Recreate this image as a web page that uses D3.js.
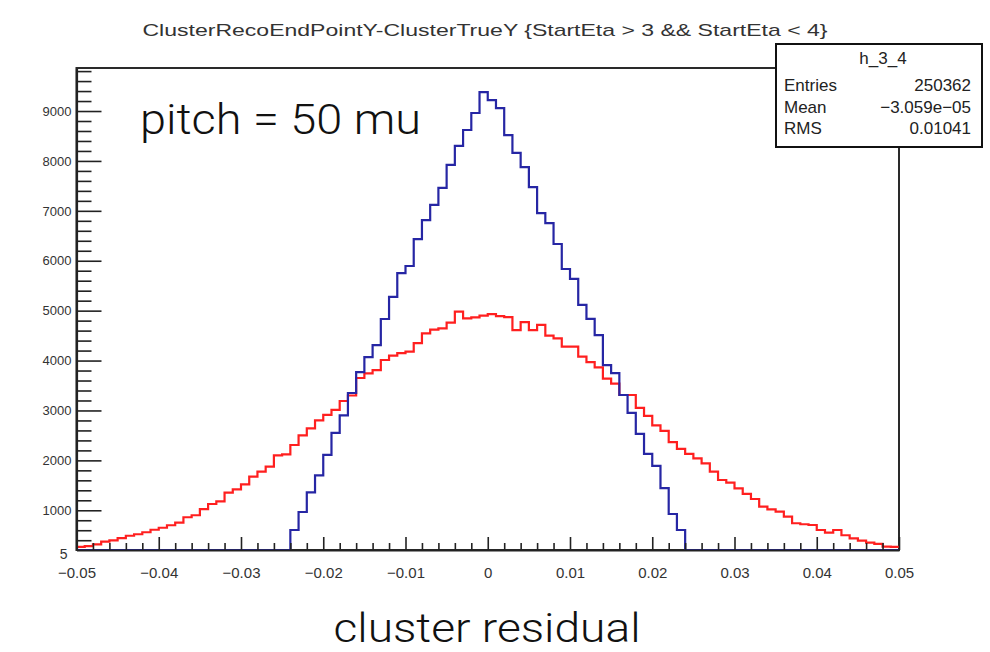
<!DOCTYPE html>
<html>
<head>
<meta charset="utf-8">
<script src="https://cdn.jsdelivr.net/npm/d3@7"></script>
<style>
  html, body { margin: 0; padding: 0; background: #ffffff; }
  svg { display: block; }
</style>
</head>
<body>
<svg id="chart" width="990" height="652"></svg>
<script>
// ---------------- data ----------------
const titleText = "ClusterRecoEndPointY-ClusterTrueY {StartEta > 3 && StartEta < 4}";
const histRange = [-0.05, 0.05];
const nBins = 100;

// red histogram (broad), 100 bins from -0.05 to 0.05
const redCounts = [
  265, 280, 318, 370, 395, 440, 490, 520, 560, 610,
  650, 700, 752, 860, 900, 1025, 1126, 1180, 1353, 1420,
  1520, 1673, 1773, 1873, 2100, 2120, 2308, 2500, 2642, 2800,
  2910, 3010, 3190, 3300, 3650, 3745, 3810, 4011, 4100, 4150,
  4180, 4350, 4546, 4620, 4646, 4760, 4980, 4846, 4866, 4900,
  4930, 4890, 4870, 4610, 4770, 4610, 4713, 4500, 4446, 4278,
  4278, 4078, 3970, 3865, 3637, 3537, 3310, 3310, 3053, 2893,
  2700, 2592, 2365, 2230, 2130, 2041, 1940, 1773, 1607, 1553,
  1440, 1330, 1226, 1072, 1020, 972, 872, 740, 720, 705,
  605, 551, 605, 500, 438, 391, 350, 325, 271, 265
];

// blue histogram (narrow, pitch = 50 mu), 100 bins from -0.05 to 0.05
const blueCounts = [
  0, 0, 0, 0, 0, 0, 0, 0, 0, 0,
  0, 0, 0, 0, 0, 0, 0, 0, 0, 0,
  0, 0, 0, 0, 0, 165, 605, 965, 1360, 1700,
  2110, 2550, 2900, 3350, 3770, 4070, 4310, 4833, 5275, 5750,
  5895, 6435, 6815, 7120, 7460, 7920, 8300, 8620, 8960, 9380,
  9220, 9060, 8515, 8160, 7875, 7475, 6955, 6755, 6335, 5835,
  5635, 5115, 4835, 4510, 3910, 3750, 3310, 2950, 2530, 2130,
  1890, 1445, 925, 605, 180, 0, 0, 0, 0, 0,
  0, 0, 0, 0, 0, 0, 0, 0, 0, 0,
  0, 0, 0, 0, 0, 0, 0, 0, 0, 0
];

const xTickValues = [-0.05, -0.04, -0.03, -0.02, -0.01, 0, 0.01, 0.02, 0.03, 0.04, 0.05];
const xTickLabels = ["\u22120.05", "\u22120.04", "\u22120.03", "\u22120.02", "\u22120.01", "0", "0.01", "0.02", "0.03", "0.04", "0.05"];
const yTickValues = [1000, 2000, 3000, 4000, 5000, 6000, 7000, 8000, 9000];
const yTickLabels = ["1000", "2000", "3000", "4000", "5000", "6000", "7000", "8000", "9000"];
const yDomain = [204, 9862];

const statsName = "h_3_4";
const statsRows = ["Entries", "Mean", "RMS"];
const statsValues = ["250362", "\u22123.059e\u221205", "0.01041"];

const annotationText = "pitch = 50 mu";
const xAxisTitle = "cluster residual";

// ---------------- layout ----------------
const svg = d3.select("#chart");
const frame = { left: 76.5, right: 899, top: 68, bottom: 550 };

const x = d3.scaleLinear().domain(histRange).range([frame.left, frame.right]);
const y = d3.scaleLinear().domain(yDomain).range([frame.bottom, frame.top]);

const binWidth = (histRange[1] - histRange[0]) / nBins;

// clip for histograms
svg.append("defs").append("clipPath").attr("id", "frameClip")
  .append("rect")
  .attr("x", frame.left).attr("y", frame.top)
  .attr("width", frame.right - frame.left).attr("height", frame.bottom - frame.top);

// frame rectangle
svg.append("rect")
  .attr("x", frame.left).attr("y", frame.top)
  .attr("width", frame.right - frame.left).attr("height", frame.bottom - frame.top)
  .attr("fill", "none").attr("stroke", "#2a2a2a").attr("stroke-width", 2);

// histograms
function stepPoints(counts) {
  const pts = counts.map((c, i) => [histRange[0] + i * binWidth, c]);
  pts.push([histRange[1], counts[counts.length - 1]]);
  return pts;
}
const stepLine = d3.line()
  .x(d => x(d[0]))
  .y(d => y(Math.max(d[1], yDomain[0])))
  .curve(d3.curveStepAfter);

const gHist = svg.append("g").attr("clip-path", "url(#frameClip)");
gHist.append("path")
  .attr("d", stepLine(stepPoints(redCounts)))
  .attr("fill", "none").attr("stroke", "#ff1f1f").attr("stroke-width", 2.2);
gHist.append("path")
  .attr("d", stepLine(stepPoints(blueCounts)))
  .attr("fill", "none").attr("stroke", "#2626a4").attr("stroke-width", 2.2);

// x axis: minor ticks
const xMinor = d3.range(0, 51).map(i => histRange[0] + i * 0.002).filter(v => Math.abs(Math.round(v * 100) - v * 100) > 1e-6);
svg.append("g").attr("transform", `translate(0,${frame.bottom})`)
  .call(d3.axisBottom(x).tickValues(xMinor).tickSizeInner(-7).tickSizeOuter(0).tickFormat(""))
  .call(g => g.select(".domain").remove())
  .call(g => g.selectAll("line").attr("stroke", "#222").attr("stroke-width", 1.6));

// x axis: major ticks + labels
svg.append("g").attr("transform", `translate(0,${frame.bottom})`)
  .call(d3.axisBottom(x).tickValues(xTickValues).tickSizeInner(-13).tickSizeOuter(0).tickPadding(17)
    .tickFormat((d, i) => xTickLabels[i]))
  .call(g => g.select(".domain").attr("stroke", "#222").attr("stroke-width", 2.2))
  .call(g => g.selectAll("line").attr("stroke", "#222").attr("stroke-width", 1.6))
  .call(g => g.selectAll("text").attr("fill", "#333").attr("font-size", 15)
    .attr("font-family", "Liberation Sans, Arial, sans-serif"));

// y axis: minor ticks
const yMinor = d3.range(400, yDomain[1], 200).filter(v => v % 1000 !== 0);
svg.append("g").attr("transform", `translate(${frame.left},0)`)
  .call(d3.axisLeft(y).tickValues(yMinor).tickSizeInner(-15).tickSizeOuter(0).tickFormat(""))
  .call(g => g.select(".domain").remove())
  .call(g => g.selectAll("line").attr("stroke", "#222").attr("stroke-width", 1.6));

// y axis: major ticks + labels
svg.append("g").attr("transform", `translate(${frame.left},0)`)
  .call(d3.axisLeft(y).tickValues(yTickValues).tickSizeInner(-25).tickSizeOuter(0).tickPadding(5)
    .tickFormat((d, i) => yTickLabels[i]))
  .call(g => g.select(".domain").attr("stroke", "#222").attr("stroke-width", 2.2))
  .call(g => g.selectAll("line").attr("stroke", "#222").attr("stroke-width", 1.6))
  .call(g => g.selectAll("text").attr("fill", "#333").attr("font-size", 13)
    .attr("font-family", "Liberation Sans, Arial, sans-serif"));

// stray "5" label at bottom of y axis
svg.append("text")
  .attr("x", frame.left - 9).attr("y", frame.bottom + 9)
  .attr("text-anchor", "end")
  .attr("font-family", "Liberation Sans, Arial, sans-serif")
  .attr("font-size", 14).attr("fill", "#333")
  .text("5");

// title
svg.append("text")
  .attr("x", 485).attr("y", 36)
  .attr("text-anchor", "middle")
  .attr("font-family", "Liberation Sans, Arial, sans-serif")
  .attr("font-size", 17).attr("fill", "#333")
  .attr("textLength", 685).attr("lengthAdjust", "spacingAndGlyphs")
  .text(titleText);

// stats box
const box = { x: 776, y: 44, w: 206, h: 103 };
svg.append("rect")
  .attr("x", box.x).attr("y", box.y).attr("width", box.w).attr("height", box.h)
  .attr("fill", "#fff").attr("stroke", "#111").attr("stroke-width", 2);
svg.append("text")
  .attr("x", box.x + box.w / 2 + 4).attr("y", box.y + 20)
  .attr("text-anchor", "middle")
  .attr("font-family", "Liberation Sans, Arial, sans-serif")
  .attr("font-size", 17).attr("fill", "#222")
  .text(statsName);
statsRows.forEach((r, i) => {
  const yy = box.y + 47 + i * 21.5;
  svg.append("text")
    .attr("x", box.x + 8).attr("y", yy)
    .attr("font-family", "Liberation Sans, Arial, sans-serif")
    .attr("font-size", 17).attr("fill", "#222")
    .text(r);
  svg.append("text")
    .attr("x", box.x + box.w - 11).attr("y", yy)
    .attr("text-anchor", "end")
    .attr("font-family", "Liberation Sans, Arial, sans-serif")
    .attr("font-size", 17).attr("fill", "#222")
    .text(statsValues[i]);
});

// annotation
svg.append("text")
  .attr("x", 140).attr("y", 134)
  .attr("font-family", "Roboto, 'Liberation Sans', sans-serif")
  .attr("font-weight", 300)
  .attr("font-size", 43).attr("fill", "#111")
  .attr("textLength", 281).attr("lengthAdjust", "spacingAndGlyphs")
  .text(annotationText);

// x axis title
svg.append("text")
  .attr("x", 487).attr("y", 642)
  .attr("text-anchor", "middle")
  .attr("font-family", "Roboto, 'Liberation Sans', sans-serif")
  .attr("font-weight", 300)
  .attr("font-size", 41).attr("fill", "#111")
  .attr("textLength", 307).attr("lengthAdjust", "spacingAndGlyphs")
  .text(xAxisTitle);
</script>
</body>
</html>
